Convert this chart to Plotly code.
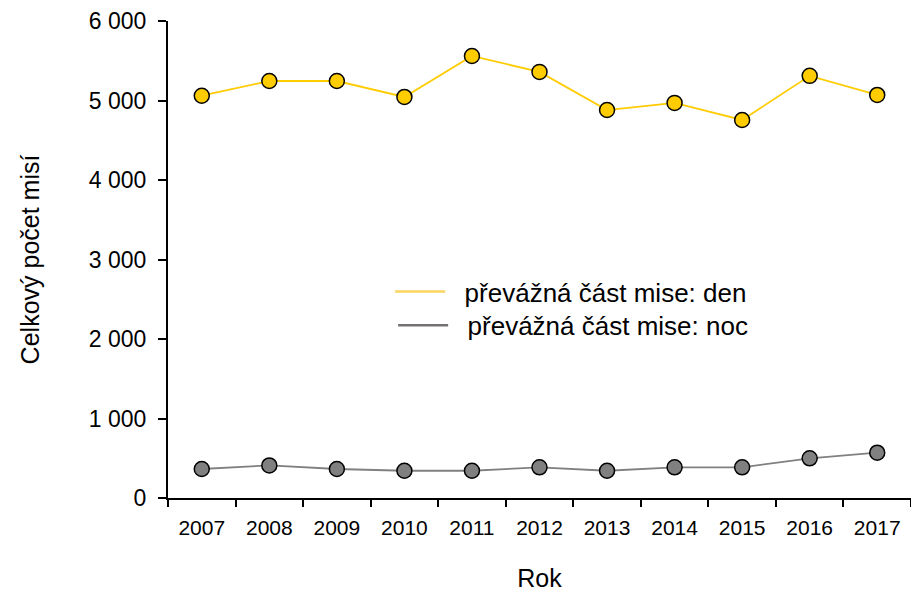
import plotly.graph_objects as go

years = ["2007", "2008", "2009", "2010", "2011", "2012", "2013", "2014", "2015", "2016", "2017"]
den = [5060, 5245, 5245, 5045, 5560, 5360, 4880, 4970, 4755, 5310, 5070]
noc = [365, 410, 365, 343, 343, 386, 343, 386, 386, 499, 570]
ytick_vals = [0, 1000, 2000, 3000, 4000, 5000, 6000]
ytick_text = ["0", "1 000", "2 000", "3 000", "4 000", "5 000", "6 000"]
name_den = "převážná část mise: den"
name_noc = "převážná část mise: noc"

FONT = "Liberation Sans, Arial, sans-serif"
YEL = "#FFCC00"
GRY = "#808080"
NB = "\u00a0"

fig = go.Figure()
fig.add_trace(go.Scatter(
    x=years, y=den, mode="lines+markers", showlegend=False,
    line=dict(color=YEL, width=1.8),
    marker=dict(size=15, color=YEL, line=dict(color="black", width=1.5)),
))
fig.add_trace(go.Scatter(
    x=years, y=noc, mode="lines+markers", showlegend=False,
    line=dict(color=GRY, width=1.8),
    marker=dict(size=15, color=GRY, line=dict(color="black", width=1.5)),
))
fig.add_trace(go.Scatter(x=[None], y=[None], mode="lines", name=NB * 2 + name_den,
                         line=dict(color="#F9D55F", width=2.5), legend="legend"))
fig.add_trace(go.Scatter(x=[None], y=[None], mode="lines", name=NB * 2 + name_noc,
                         line=dict(color="#767171", width=2.5), legend="legend2"))

leg_common = dict(xanchor="left", yanchor="top", font=dict(size=26, family=FONT),
                  itemwidth=50, bgcolor="rgba(0,0,0,0)")

fig.update_layout(
    width=911, height=592,
    margin=dict(l=168, r=0, t=21, b=94),
    paper_bgcolor="white", plot_bgcolor="white",
    font=dict(family=FONT, color="black"),
    legend=dict(x=0.299, y=0.482, **leg_common),
    legend2=dict(x=0.303, y=0.411, **leg_common),
    xaxis=dict(
        type="category", range=[-0.5, 10.5], tickson="boundaries",
        ticks="outside", ticklen=7, tickwidth=2, tickcolor="black",
        showline=True, linecolor="black", linewidth=2,
        showgrid=False, zeroline=False, automargin=False,
        ticklabelstandoff=10,
        tickfont=dict(size=21, family=FONT),
        title=dict(text="Rok", font=dict(size=25, family=FONT), standoff=40),
    ),
    yaxis=dict(
        range=[0, 6000], tickvals=ytick_vals, ticktext=ytick_text,
        ticks="outside", ticklen=8, tickwidth=2, tickcolor="black",
        showline=True, linecolor="black", linewidth=2,
        showgrid=False, zeroline=False, automargin=False,
        ticklabelstandoff=7,
        tickfont=dict(size=23, family=FONT),
        title=dict(text="Celkový počet misí", font=dict(size=25, family=FONT), standoff=42),
    ),
)

fig.write_html("out.html", config={"displayModeBar": False},
               post_script="document.body.style.margin='0px';")
